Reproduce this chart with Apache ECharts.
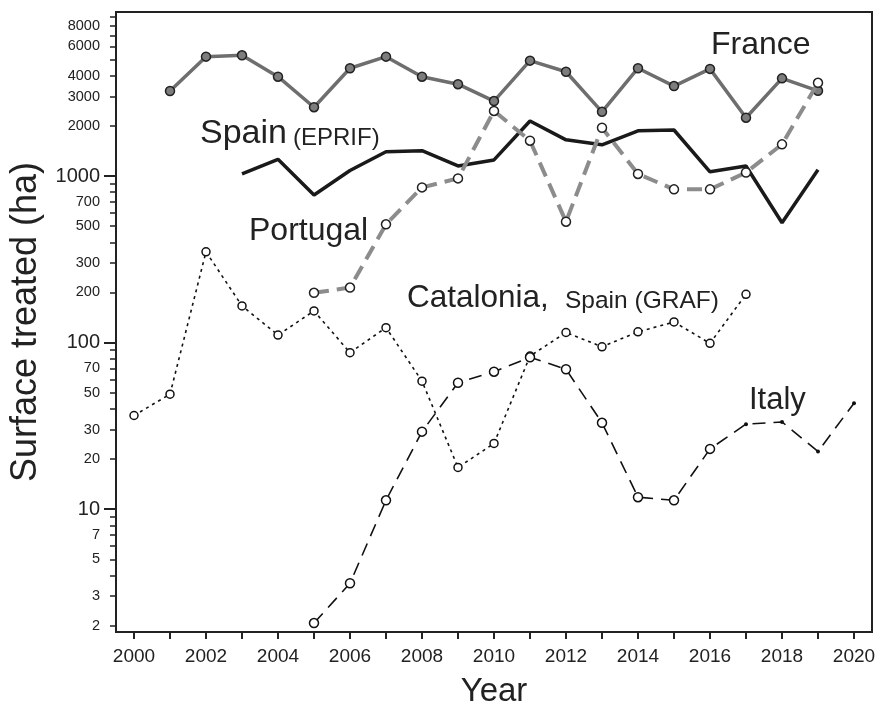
<!DOCTYPE html>
<html><head><meta charset="utf-8">
<script src="https://cdn.jsdelivr.net/npm/echarts@6/dist/echarts.min.js"></script>
<style>html,body{margin:0;padding:0;background:#fff}#c{width:877px;height:707px}</style>
</head><body><div id="c"></div>
<script>
// ---- data ----
const years = [2000,2001,2002,2003,2004,2005,2006,2007,2008,2009,2010,2011,2012,2013,2014,2015,2016,2017,2018,2019,2020];
const france    = [null,3240,5210,5310,3950,2590,4440,5210,3950,3560,2820,4930,4230,2430,4440,3470,4400,2240,3860,3250,null];
const spainEPRIF= [null,null,null,1030,1260,770,1080,1400,1420,1150,1250,2140,1650,1540,1870,1890,1060,1150,524,1090,null];
const portugal  = [null,null,null,null,null,199,214,513,855,968,2460,1630,532,1950,1030,832,832,1050,1550,3630,null];
const catalonia = [36.5,49,351,166,111,155,87,123,58.7,17.8,24.8,83,115,94.4,116,133,99,195,null,null,null];
const italy     = [null,null,null,null,null,2.07,3.59,11.3,29.2,57.4,66.9,81.6,69.2,33,11.8,11.3,23,32.4,33.4,22.2,43.3];
const italyDotFrom = 2017; // later years drawn with small dots
const yTickValues = [2,3,4,5,6,7,8,9,10,20,30,40,50,60,70,80,90,100,200,300,400,500,600,700,800,900,1000,2000,3000,4000,5000,6000,7000,8000,9000];
const yLabelValues = [2,3,5,7,10,20,30,50,70,100,200,300,500,700,1000,2000,3000,4000,6000,8000];
const yDecades = [10,100,1000];
const xTickYears = years;
const xLabelYears = [2000,2002,2004,2006,2008,2010,2012,2014,2016,2018,2020];
const Y_MIN = 1.83, Y_MAX = 9660;

// ---- build ----
const FONT = "'Liberation Sans', Arial, Helvetica, sans-serif";
const INK = '#222';
function pairs(vals){ const out=[]; years.forEach((y,i)=>{ if(vals[i]!=null) out.push([y, vals[i]]); }); return out; }
const lg = Math.log10;
function txt(x, y, text, size){
  return { type:'text', x:x, y:y, style:{ text:text, font:size+'px '+FONT, fill:INK,
    textAlign:'left', textVerticalAlign:'middle', align:'left', verticalAlign:'middle' } };
}

const chart = echarts.init(document.getElementById('c'), null, {renderer:'canvas'});
const option = {
  animation: false,
  backgroundColor: '#fff',
  grid: { left:116, top:12, right:5, bottom:75, show:true, borderColor:INK, borderWidth:2, containLabel:false, outerBoundsMode:'none' },
  xAxis: {
    type:'value', min:1999.5, max:2020.5,
    name:'Year', nameLocation:'middle', nameGap:43,
    nameTextStyle:{ fontSize:33, color:INK, fontFamily:FONT },
    axisLine:{ show:true, lineStyle:{ color:INK, width:2 } },
    axisTick:{ show:true, customValues:xTickYears, length:7, lineStyle:{ color:INK, width:2 } },
    axisLabel:{ customValues:xLabelYears, fontSize:19, color:INK, fontFamily:FONT, margin:15, formatter:v=>String(Math.round(v)) },
    splitLine:{ show:false }
  },
  yAxis: [
    { type:'log', logBase:10, min:Y_MIN, max:Y_MAX, position:'left',
      axisLine:{ show:true, lineStyle:{ color:INK, width:2 } },
      axisTick:{ show:false }, axisLabel:{ show:false }, splitLine:{ show:false }, minorTick:{show:false} },
    { type:'value', min:lg(Y_MIN), max:lg(Y_MAX), position:'left', offset:0,
      name:'Surface treated (ha)', nameLocation:'middle', nameGap:72,
      nameTextStyle:{ fontSize:36, color:INK, fontFamily:FONT },
      axisLine:{ show:false },
      axisTick:{ show:true, customValues:yTickValues.map(lg), length:6, lineStyle:{ color:INK, width:1.5 } },
      axisLabel:{ customValues:yLabelValues.map(lg), margin:16, color:INK, fontFamily:FONT,
        formatter:v=>{ const n=Math.round(Math.pow(10,v)); return yDecades.indexOf(n)>=0 ? '{b|'+n+'}' : '{s|'+n+'}'; },
        rich:{ b:{ fontSize:20, color:INK, fontFamily:FONT }, s:{ fontSize:14.5, color:INK, fontFamily:FONT } } },
      splitLine:{ show:false } },
    { type:'value', min:lg(Y_MIN), max:lg(Y_MAX), position:'left', offset:0,
      axisLine:{ show:false },
      axisTick:{ show:true, customValues:yDecades.map(lg), length:12, lineStyle:{ color:INK, width:2 } },
      axisLabel:{ show:false }, splitLine:{ show:false } }
  ],
  series: [
    { name:'Spain (EPRIF)', type:'line', yAxisIndex:0, data:pairs(spainEPRIF), showSymbol:false, symbol:'none',
      lineStyle:{ color:'#1a1a1a', width:3.5 }, z:3 },
    { name:'France', type:'line', yAxisIndex:0, data:pairs(france), symbol:'circle', symbolSize:9,
      lineStyle:{ color:'#6e6e6e', width:3.5 },
      itemStyle:{ color:'#7d7d7d', borderColor:INK, borderWidth:1.5 }, z:4 },
    { name:'Portugal', type:'line', yAxisIndex:0, data:pairs(portugal), symbol:'circle', symbolSize:9,
      lineStyle:{ color:'#8c8c8c', width:4, type:[15,8] },
      itemStyle:{ color:'#fff', borderColor:INK, borderWidth:1.5 }, z:5 },
    { name:'Catalonia, Spain (GRAF)', type:'line', yAxisIndex:0, data:pairs(catalonia), symbol:'circle', symbolSize:8,
      lineStyle:{ color:'#111', width:1.6, type:[3,4] },
      itemStyle:{ color:'#fff', borderColor:'#111', borderWidth:1.5 }, z:6 },
    { name:'Italy', type:'line', yAxisIndex:0,
      data:pairs(italy).map(p=> p[0]>=italyDotFrom
        ? { value:p, symbol:'circle', symbolSize:4, itemStyle:{ color:'#111', borderWidth:0 } }
        : { value:p }),
      symbol:'circle', symbolSize:9,
      lineStyle:{ color:'#111', width:1.6, type:[13,8] },
      itemStyle:{ color:'#fff', borderColor:'#111', borderWidth:1.5 }, z:6 }
  ],
  graphic: [
    txt(711, 45, 'France', 32),
    txt(200, 134, 'Spain', 34),
    txt(293, 138.5, '(EPRIF)', 24),
    txt(249, 231, 'Portugal', 32),
    txt(407, 298, 'Catalonia,', 31.5),
    txt(565, 301, 'Spain (GRAF)', 24.5),
    txt(749, 400, 'Italy', 31)
  ]
};
chart.setOption(option);
</script>
</body></html>
